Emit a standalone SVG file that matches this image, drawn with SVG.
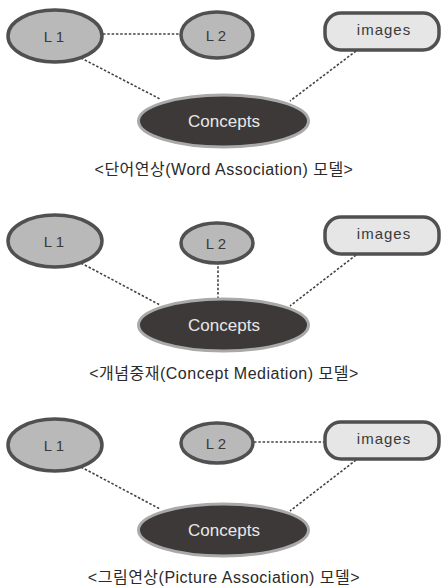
<svg xmlns="http://www.w3.org/2000/svg" width="442" height="588" viewBox="0 0 442 588">
<defs>
<style>
.lang{fill:#b9b9b9;stroke:#505050;stroke-width:3.5}
.img{fill:#e6e6e6;stroke:#505050;stroke-width:3.5}
.con{fill:#3d3939;stroke:#a9a9a9;stroke-width:3}
.lt{font-family:"Liberation Sans",Arial,sans-serif;font-size:15px;fill:#3a3a3a;text-anchor:middle}
.it{font-family:"Liberation Sans",Arial,sans-serif;font-size:15px;fill:#3a3a3a;text-anchor:middle;letter-spacing:1px}
.ct{font-family:"Liberation Sans",Arial,sans-serif;font-size:17px;fill:#e8e8e8;text-anchor:middle}
.cap{font-family:"Liberation Sans","Noto Sans CJK KR",sans-serif;font-size:16px;fill:#2a2a2a;text-anchor:middle;letter-spacing:0.5px}
.ln{stroke:#444;stroke-width:1.6;stroke-dasharray:2.5 1.8;fill:none}
</style>
</defs>
<rect width="442" height="588" fill="#ffffff"/>
<g id="connectors">
<line class="ln" x1="103" y1="34" x2="180" y2="34"/>
<line class="ln" x1="81" y1="58" x2="160" y2="99"/>
<line class="ln" x1="356" y1="51" x2="290" y2="101"/>
<line class="ln" x1="81" y1="263" x2="160" y2="305"/>
<line class="ln" x1="218" y1="262" x2="218" y2="298"/>
<line class="ln" x1="356" y1="255" x2="290" y2="306"/>
<line class="ln" x1="81" y1="467" x2="160" y2="509"/>
<line class="ln" x1="254" y1="442" x2="324" y2="442"/>
<line class="ln" x1="356" y1="460" x2="290" y2="511"/>
</g>
<g id="p1-L1"><ellipse class="lang" cx="55" cy="36" rx="47" ry="26"/><text class="lt" x="54" y="42">L 1</text></g>
<g id="p1-L2"><ellipse class="lang" cx="217" cy="35" rx="36" ry="23"/><text class="lt" x="216" y="41">L 2</text></g>
<g id="p1-images"><rect class="img" x="325" y="13" width="114" height="37" rx="16"/><text class="it" x="384" y="35">images</text></g>
<g id="p1-concepts"><ellipse class="con" cx="223.5" cy="121" rx="85" ry="26"/><text class="ct" x="224" y="127">Concepts</text></g>
<text class="cap" x="224" y="175">&lt;단어연상(Word Association) 모델&gt;</text>

<g id="p2-L1"><ellipse class="lang" cx="55" cy="241" rx="47" ry="26"/><text class="lt" x="54" y="247">L 1</text></g>
<g id="p2-L2"><ellipse class="lang" cx="217" cy="243" rx="36" ry="20"/><text class="lt" x="216" y="249">L 2</text></g>
<g id="p2-images"><rect class="img" x="325" y="217" width="114" height="37" rx="16"/><text class="it" x="384" y="239">images</text></g>
<g id="p2-concepts"><ellipse class="con" cx="223.5" cy="325" rx="85" ry="26"/><text class="ct" x="224" y="331">Concepts</text></g>
<text class="cap" x="224" y="379">&lt;개념중재(Concept Mediation) 모델&gt;</text>

<g id="p3-L1"><ellipse class="lang" cx="55" cy="445" rx="47" ry="26"/><text class="lt" x="54" y="451">L 1</text></g>
<g id="p3-L2"><ellipse class="lang" cx="217" cy="443" rx="36" ry="20"/><text class="lt" x="216" y="449">L 2</text></g>
<g id="p3-images"><rect class="img" x="325" y="422" width="114" height="37" rx="16"/><text class="it" x="384" y="444">images</text></g>
<g id="p3-concepts"><ellipse class="con" cx="223.5" cy="530" rx="85" ry="26"/><text class="ct" x="224" y="536">Concepts</text></g>
<text class="cap" x="224" y="583">&lt;그림연상(Picture Association) 모델&gt;</text>
</svg>
